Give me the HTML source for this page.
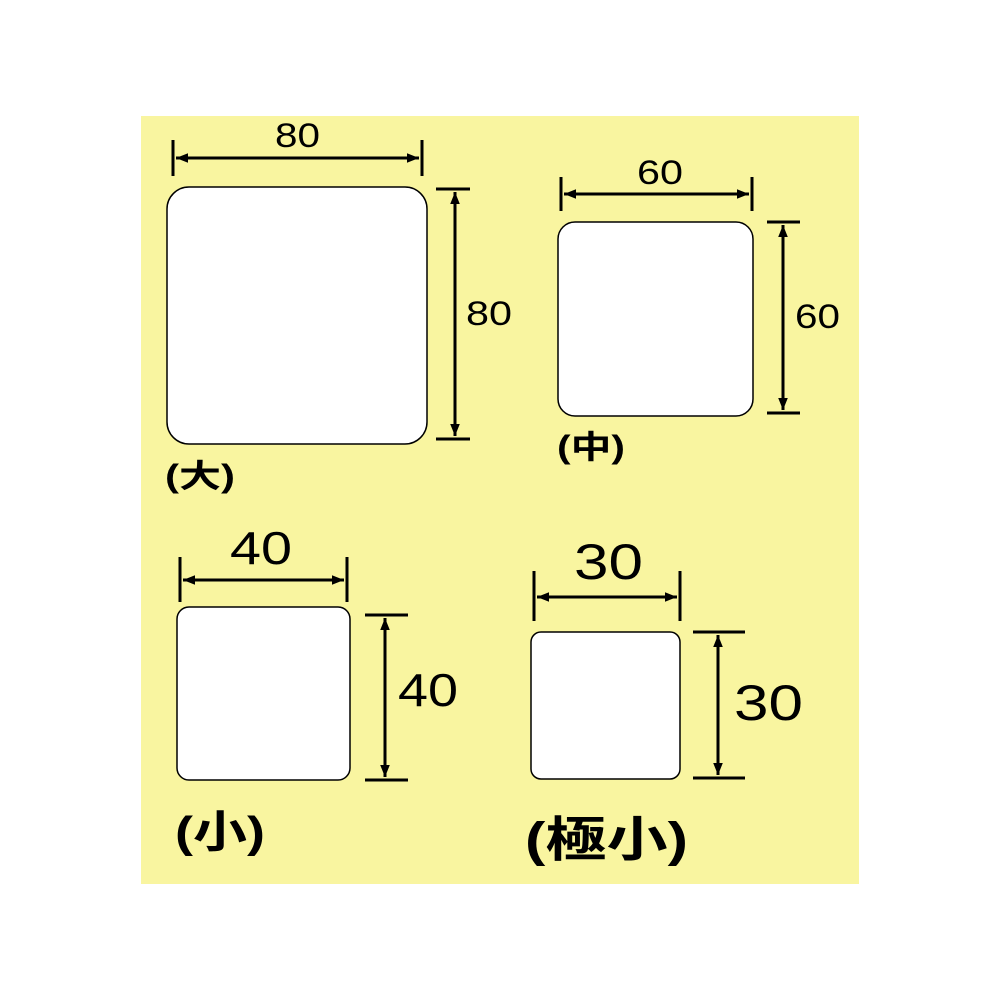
<!DOCTYPE html>
<html><head><meta charset="utf-8"><style>html,body{margin:0;padding:0;background:#fff}</style></head>
<body>
<svg width="1000" height="1000" xmlns="http://www.w3.org/2000/svg" font-family="'Liberation Sans','Noto Sans CJK JP',sans-serif">
<defs>
<marker id="a" viewBox="0 0 10 10" refX="10" refY="5" markerWidth="4" markerHeight="4" orient="auto-start-reverse"><path d="M0,1 L10,5 L0,9 Z" fill="#000"/></marker>
</defs>
<rect x="141" y="116" width="718" height="768" fill="#f9f5a0"/>
<g fill="#fff" stroke="#000" stroke-width="1.5">
<rect x="167" y="187" width="260" height="257" rx="22"/>
<rect x="558" y="222" width="195" height="194" rx="17"/>
<rect x="177" y="607" width="173" height="173" rx="12"/>
<rect x="531" y="632" width="149" height="147" rx="10"/>
</g>
<g stroke="#000" stroke-width="3">
<line x1="173" y1="140" x2="173" y2="176"/><line x1="422" y1="140" x2="422" y2="176"/>
<line x1="176" y1="158" x2="419" y2="158" marker-start="url(#a)" marker-end="url(#a)"/>
<line x1="436" y1="189" x2="470" y2="189"/><line x1="436" y1="439" x2="470" y2="439"/>
<line x1="455" y1="192" x2="455" y2="436" marker-start="url(#a)" marker-end="url(#a)"/>
<line x1="561" y1="177" x2="561" y2="211"/><line x1="752" y1="177" x2="752" y2="211"/>
<line x1="564" y1="194" x2="749" y2="194" marker-start="url(#a)" marker-end="url(#a)"/>
<line x1="767" y1="222" x2="800" y2="222"/><line x1="767" y1="413" x2="800" y2="413"/>
<line x1="783" y1="225" x2="783" y2="410" marker-start="url(#a)" marker-end="url(#a)"/>
<line x1="180" y1="557" x2="180" y2="602"/><line x1="347" y1="557" x2="347" y2="602"/>
<line x1="183" y1="580" x2="344" y2="580" marker-start="url(#a)" marker-end="url(#a)"/>
<line x1="365" y1="615" x2="408" y2="615"/><line x1="365" y1="780" x2="408" y2="780"/>
<line x1="385" y1="618" x2="385" y2="777" marker-start="url(#a)" marker-end="url(#a)"/>
<line x1="534" y1="571" x2="534" y2="621"/><line x1="680" y1="571" x2="680" y2="621"/>
<line x1="537" y1="597" x2="677" y2="597" marker-start="url(#a)" marker-end="url(#a)"/>
<line x1="693" y1="632" x2="745" y2="632"/><line x1="693" y1="778" x2="745" y2="778"/>
<line x1="718" y1="635" x2="718" y2="775" marker-start="url(#a)" marker-end="url(#a)"/>
</g>
<g fill="#000" lengthAdjust="spacingAndGlyphs">
<text x="275" y="147" font-size="34" textLength="45" lengthAdjust="spacingAndGlyphs">80</text>
<text x="466" y="325" font-size="34" textLength="46" lengthAdjust="spacingAndGlyphs">80</text>
<text x="637" y="184" font-size="34" textLength="46" lengthAdjust="spacingAndGlyphs">60</text>
<text x="795" y="328" font-size="34" textLength="45" lengthAdjust="spacingAndGlyphs">60</text>
<text x="230" y="564" font-size="46" textLength="62" lengthAdjust="spacingAndGlyphs">40</text>
<text x="398" y="706" font-size="46" textLength="60" lengthAdjust="spacingAndGlyphs">40</text>
<text x="574" y="579" font-size="50" textLength="69" lengthAdjust="spacingAndGlyphs">30</text>
<text x="734" y="720" font-size="50" textLength="69" lengthAdjust="spacingAndGlyphs">30</text>
</g>
<g fill="#000" font-weight="bold">
<text x="165" y="487" font-size="32" textLength="70" lengthAdjust="spacingAndGlyphs">(大)</text>
<text x="557" y="458" font-size="32" textLength="68" lengthAdjust="spacingAndGlyphs">(中)</text>
<text x="175" y="847" font-size="44" textLength="90" lengthAdjust="spacingAndGlyphs">(小)</text>
<text x="525" y="856" font-size="48" textLength="163" lengthAdjust="spacingAndGlyphs">(極小)</text>
</g>
</svg>
</body></html>
